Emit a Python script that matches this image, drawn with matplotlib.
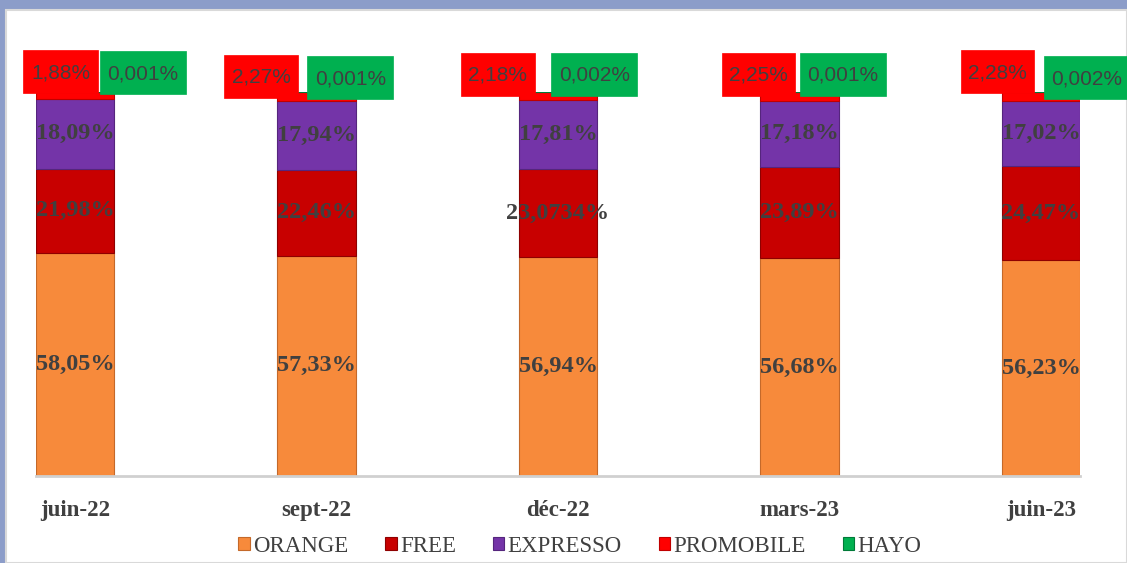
import matplotlib
matplotlib.use("Agg")
import matplotlib.pyplot as plt
from matplotlib.patches import Rectangle
import numpy as np

categories = ["juin-22", "sept-22", "déc-22", "mars-23", "juin-23"]
orange = [58.05, 57.33, 56.94, 56.68, 56.23]
free = [21.98, 22.46, 23.0734, 23.89, 24.47]
expresso = [18.09, 17.94, 17.81, 17.18, 17.02]
promobile = [1.88, 2.27, 2.18, 2.25, 2.28]
hayo = [0.001, 0.001, 0.002, 0.001, 0.002]

orange_lbl = ["58,05%", "57,33%", "56,94%", "56,68%", "56,23%"]
free_lbl = ["21,98%", "22,46%", "23,0734%", "23,89%", "24,47%"]
expresso_lbl = ["18,09%", "17,94%", "17,81%", "17,18%", "17,02%"]
promobile_lbl = ["1,88%", "2,27%", "2,18%", "2,25%", "2,28%"]
hayo_lbl = ["0,001%", "0,001%", "0,002%", "0,001%", "0,002%"]

series_names = ["ORANGE", "FREE", "EXPRESSO", "PROMOBILE", "HAYO"]
colors = ["#F78A3B", "#C80000", "#7434A8", "#FF0000", "#00B050"]
edges = ["#C4692A", "#8E0000", "#55257D", "#C00000", "#007A38"]

W, H = 1127, 563
fig = plt.figure(figsize=(W / 100, H / 100), dpi=100)
fig.patch.set_facecolor("#8C9DC9")
# white chart area
fig.patches.append(Rectangle((6 / W, 0), 1 - 6 / W, 1 - 10 / H, transform=fig.transFigure,
                             facecolor="white", edgecolor="#D9D9D9", linewidth=1.5, zorder=-5))

ax = fig.add_axes([36 / W, (H - 476) / H, (1080 - 36) / W, (476 - 92) / H])
ax.set_facecolor("none")
x = np.arange(len(categories))
width = 0.323
data = [orange, free, expresso, promobile, hayo]
bottom = np.zeros(len(categories))
bars = []
for vals, c, e, name in zip(data, colors, edges, series_names):
    b = ax.bar(x, vals, width, bottom=bottom, color=c, edgecolor=e, linewidth=0.8, label=name, zorder=2)
    bars.append(b)
    bottom = bottom + np.array(vals)

ax.set_xlim(-width / 2, len(categories) - 1 + width / 2)
ax.set_ylim(0, 100)
for s in ["top", "right", "left"]:
    ax.spines[s].set_visible(False)
ax.spines["bottom"].set_color("#D0D0D0")
ax.spines["bottom"].set_linewidth(2)
ax.set_yticks([])
ax.set_xticks(x)
ax.set_xticklabels(categories, fontfamily="Liberation Serif", fontweight="bold",
                   fontsize=16.5, color="#404040")
ax.tick_params(axis="x", length=0, pad=17)

serif = dict(fontfamily="Liberation Serif", fontweight="bold", fontsize=17.5,
             color="#404040", ha="center", va="center", zorder=5)
for i in range(len(categories)):
    o, f, e = orange[i], free[i], expresso[i]
    ax.text(x[i], o / 2, orange_lbl[i], **serif)
    ax.text(x[i], o + f / 2, free_lbl[i], **serif)
    ax.text(x[i], o + f + e / 2, expresso_lbl[i], **serif)

# PROMOBILE and HAYO callout labels (offsets from bar centre, in axis units)
promo_dx = [-0.06, -0.23, -0.25, -0.17, -0.18]
promo_dy = [5.0, 3.9, 4.4, 4.4, 5.0]
hayo_dx = [0.28, 0.14, 0.15, 0.18, 0.19]
hayo_dy = [4.8, 3.5, 4.4, 4.4, 3.5]
callouts = []
for i in range(len(categories)):
    top = orange[i] + free[i] + expresso[i] + promobile[i]
    t1 = ax.text(x[i] + promo_dx[i], top + promo_dy[i], promobile_lbl[i], family="Liberation Sans",
                 fontsize=15, color="#404040", ha="center", va="center", zorder=7, clip_on=False)
    t2 = ax.text(x[i] + hayo_dx[i], top + hayo[i] + hayo_dy[i], hayo_lbl[i], family="Liberation Sans",
                 fontsize=15, color="#404040", ha="center", va="center", zorder=7, clip_on=False)
    callouts.append((t1, "#FF0000"))
    callouts.append((t2, "#00B050"))

fig.canvas.draw()
renderer = fig.canvas.get_renderer()
for t, col in callouts:
    bb = t.get_window_extent(renderer)
    cx, cy = (bb.x0 + bb.x1) / 2, (bb.y0 + bb.y1) / 2
    bw = bb.width + 15
    bh = 43
    rect = Rectangle((cx - bw / 2, cy - bh / 2 + 1), bw, bh, transform=None,
                     facecolor=col, edgecolor=col, linewidth=0.5, zorder=6, clip_on=False)
    ax.add_artist(rect)

leg = fig.legend(handles=bars, labels=series_names, loc="center", bbox_to_anchor=(580 / W, 1 - 546 / H),
                 ncol=5, frameon=False, handlelength=0.5, handleheight=0.5, handletextpad=0.15,
                 columnspacing=1.6, prop={"family": "Liberation Serif", "size": 16.5})
for t in leg.get_texts():
    t.set_color("#404040")

fig.savefig("out.png", dpi=100, facecolor=fig.get_facecolor())
